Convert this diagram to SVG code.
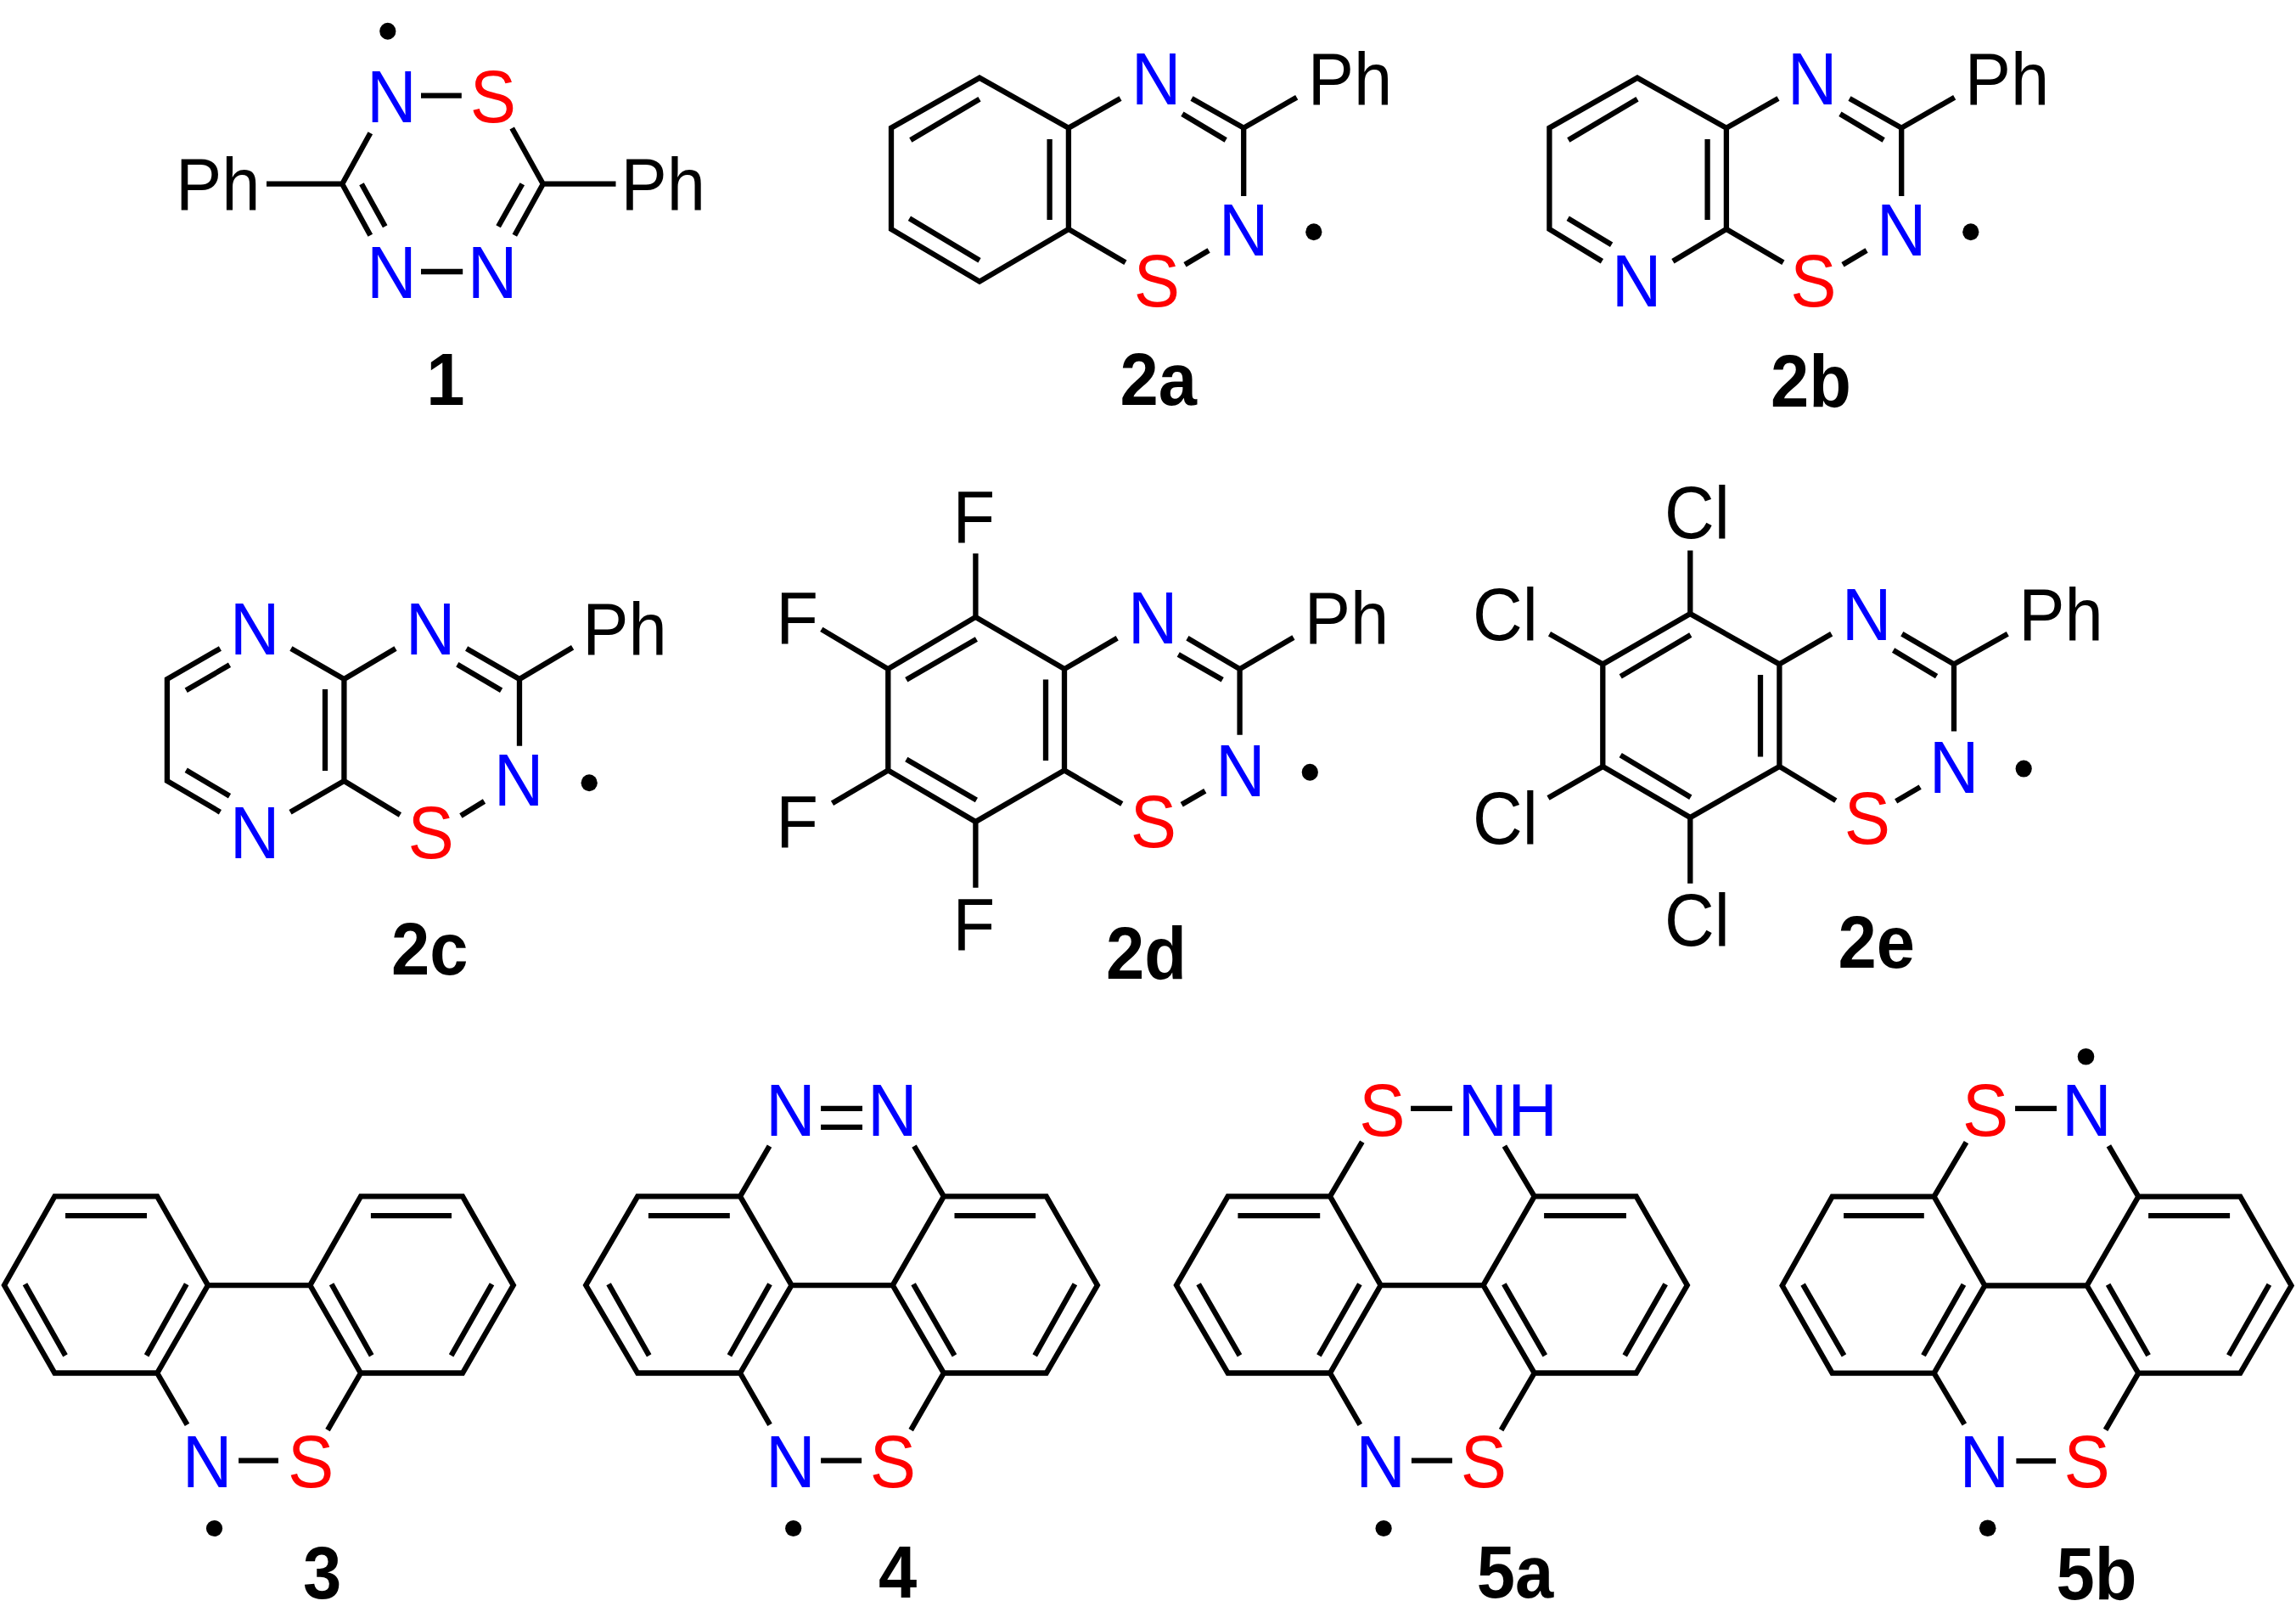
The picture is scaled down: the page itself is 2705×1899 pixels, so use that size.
<svg xmlns="http://www.w3.org/2000/svg" width="2705" height="1899" viewBox="0 0 2705 1899">
<style>
.b{fill:none;stroke:#000;stroke-width:6.3;stroke-linejoin:miter;stroke-linecap:butt}
text{font-family:"Liberation Sans",Arial,sans-serif;font-size:87.5px}
.l{font-weight:700}
.m{text-anchor:middle}
.n{fill:#00f}
.s{fill:#f00}
.k{fill:#000}
</style>
<rect width="2705" height="1899" fill="#fff"/>
<g id="compound-1">
<path class="b" d="M314 216.7H403.2M639.8 216.7H725.5M436.3 156.7L403.2 216.7L436.3 277.3M426 216.7L453.7 266.7M603.2 151L639.8 216.7L606.3 277.3M615.3 216.7L587.1 266.7M496 112.7H543.8M496 320H545.2"/>
<ellipse class="k" cx="456.8" cy="36.7" rx="9.6" ry="10"/>
<text class="m n" transform="translate(461.3,144) scale(.93,1)">N</text>
<text class="m s" transform="translate(580.9,144) scale(.93,1)">S</text>
<text class="m n" transform="translate(461.3,350.7) scale(.93,1)">N</text>
<text class="m n" transform="translate(580,350.7) scale(.93,1)">N</text>
<text class="k" transform="translate(207,246.7) scale(.93,1)">Ph</text>
<text class="k" transform="translate(731.4,246.7) scale(.93,1)">Ph</text>
<text class="l m k" transform="translate(525,477.3) scale(.93,1)">1</text>
</g>
<g id="compound-2a">
<path class="b" d="M1404 116L1465.2 150.7L1527.7 114.7M1392.9 134.3L1444.2 165M1465.2 150.7V231M1320 116L1258.9 150.7V270L1325.9 309.3M1258.9 150.7L1154 91.7L1050 150.7V270L1154 331.7L1258.9 270M1072.8 165L1154 116.7M1236.6 164V259M1071.4 257.3L1154 306.7M1396 311.7L1424.1 295"/>
<ellipse class="k" cx="1547.8" cy="273.3" rx="9.6" ry="10"/>
<text class="m n" transform="translate(1362,122.7) scale(.93,1)">N</text>
<text class="m n" transform="translate(1465.2,300.7) scale(.93,1)">N</text>
<text class="m s" transform="translate(1363,360.7) scale(.93,1)">S</text>
<text class="k" transform="translate(1540.7,122.7) scale(.93,1)">Ph</text>
<text class="l m k" transform="translate(1364.7,477.3) scale(.93,1)">2a</text>
</g>
<g id="compound-2b">
<path class="b" d="M2179 116L2240.2 150.7L2302.7 114.7M2167.9 134.3L2219.2 165M2240.2 150.7V231M2095 116L2033.9 150.7V270L2100.9 309.3M2033.9 150.7L1929 91.7L1825.4 150.7V270L1887.4 307.7M1970.9 307.7L2033.9 270M1847.8 165L1929 116.7M2011.6 164V259M1847.2 257.3L1898.6 288.3M2171 311.7L2199.1 295"/>
<ellipse class="k" cx="2321.8" cy="273.3" rx="9.6" ry="10"/>
<text class="m n" transform="translate(2135.2,122.7) scale(.93,1)">N</text>
<text class="m n" transform="translate(2240,300.7) scale(.93,1)">N</text>
<text class="m n" transform="translate(1928,360.7) scale(.93,1)">N</text>
<text class="m s" transform="translate(2136.5,360.7) scale(.93,1)">S</text>
<text class="k" transform="translate(2314.7,122.7) scale(.93,1)">Ph</text>
<text class="l m k" transform="translate(2133.4,478.7) scale(.93,1)">2b</text>
</g>
<g id="compound-2c">
<path class="b" d="M259.4 764L196.9 800V920L259.4 956.7M219.2 813.3L270.5 783.3M219.2 907.3L270.5 937.7M342.9 764L405.4 800V920L342 956.7M405.4 800L466 764M405.4 920L471.4 960M383 812V908M549.6 764L612 800L674.6 762.7M538.8 782.7L590.6 813.3M612 800V878.7M542.9 961L570.5 944"/>
<ellipse class="k" cx="694.2" cy="922.3" rx="9.6" ry="10"/>
<text class="m n" transform="translate(300,770.7) scale(.93,1)">N</text>
<text class="m n" transform="translate(300,1010.7) scale(.93,1)">N</text>
<text class="m n" transform="translate(507.1,770.7) scale(.93,1)">N</text>
<text class="m n" transform="translate(611.2,949.3) scale(.93,1)">N</text>
<text class="m s" transform="translate(507.6,1010.7) scale(.93,1)">S</text>
<text class="k" transform="translate(686.3,770.7) scale(.93,1)">Ph</text>
<text class="l m k" transform="translate(506.3,1148.3) scale(.93,1)">2c</text>
</g>
<g id="compound-2d">
<path class="b" d="M1149.4 651.9V726.9L1254 788.1V907.5L1149.4 968L1046.3 907.5V788.1L1149.4 726.9M1067.8 800.8L1150.4 752.9M1232 800.4V896M1067.8 894.5L1150.4 942.4M967.8 741.4L1046.3 788.1M980.5 946.2L1046.3 907.5M1149.4 968V1045.7M1254 788.1L1316.2 751.8M1254 907.5L1321.8 947M1398.9 751.8L1460.6 788.1L1523.9 751M1388.2 770.9L1440.2 800.8M1460.6 788.1V865.8M1392.2 947.7L1419.8 931.7"/>
<ellipse class="k" cx="1543.3" cy="909.8" rx="9.6" ry="10"/>
<text class="k" transform="translate(1122.5,638.9) scale(.93,1)">F</text>
<text class="k" transform="translate(914.3,757.5) scale(.93,1)">F</text>
<text class="k" transform="translate(914.3,997.9) scale(.93,1)">F</text>
<text class="k" transform="translate(1122.5,1118.8) scale(.93,1)">F</text>
<text class="m n" transform="translate(1358,757.5) scale(.93,1)">N</text>
<text class="m n" transform="translate(1461.4,938.2) scale(.93,1)">N</text>
<text class="m s" transform="translate(1359,997.9) scale(.93,1)">S</text>
<text class="k" transform="translate(1536.7,757.5) scale(.93,1)">Ph</text>
<text class="l m k" transform="translate(1350.4,1152.5) scale(.93,1)">2d</text>
</g>
<g id="compound-2e">
<path class="b" d="M1991.3 648.5V723.1L2096.4 782.4V902.9L1991.3 963L1888.3 902.9V782.4L1991.3 723.1M1909.2 796.9L1991.8 748M2074 795V891.5M1909.2 889.6L1991.8 939.3M1825.5 746.8L1888.3 782.4M1824 940.1L1888.3 902.9M1991.3 963V1040.7M2096.4 782.4L2157.7 746.8M2096.4 902.9L2162.8 943.1M2240.8 746.8L2302 782.4L2365.3 746.8M2230.6 766L2281.6 796.6M2302 782.4V861.6M2233.7 943.9L2262.2 927.1"/>
<ellipse class="k" cx="2384.2" cy="905.6" rx="9.6" ry="10"/>
<text class="k" transform="translate(1961,634.3) scale(.93,1)">Cl</text>
<text class="k" transform="translate(1735,753.7) scale(.93,1)">Cl</text>
<text class="k" transform="translate(1735,993.7) scale(.93,1)">Cl</text>
<text class="k" transform="translate(1961,1114.2) scale(.93,1)">Cl</text>
<text class="m n" transform="translate(2199,753.7) scale(.93,1)">N</text>
<text class="m n" transform="translate(2302,933.6) scale(.93,1)">N</text>
<text class="m s" transform="translate(2200,993.7) scale(.93,1)">S</text>
<text class="k" transform="translate(2378.2,753.7) scale(.93,1)">Ph</text>
<text class="l m k" transform="translate(2210.7,1140.2) scale(.93,1)">2e</text>
</g>
<g id="compound-3">
<path class="b" d="M64.4 1409.4H185.2L245 1514.1L185.2 1617.5H64.4L5 1514.1ZM425 1409.4H545L604.8 1514.1L545 1617.5H425L365.3 1514.1ZM245 1514.1H365.3M77 1432.1H173M29.5 1512.8L77 1596.9M219.7 1512.8L172.6 1596.9M436.9 1432.1H532M390.6 1512.8L437.7 1596.9M579.5 1512.8L531.6 1596.9M185.2 1617.5L220.5 1678.4M425 1617.5L386 1684.6M281.1 1720.6H327.9"/>
<circle class="k" cx="252.5" cy="1800.5" r="9.6"/>
<text class="m n" transform="translate(244.1,1752.1) scale(.93,1)">N</text>
<text class="m s" transform="translate(366.2,1752.1) scale(.93,1)">S</text>
<text class="l m k" transform="translate(379.6,1883.3) scale(.93,1)">3</text>
</g>
<g id="compound-4">
<path class="b" d="M751.2 1409.4H872L932.6 1514.1L872 1617.5H751.2L690.2 1514.1ZM1111.9 1409.4H1232.7L1292.9 1514.1L1232.7 1617.5H1111.9L1051.7 1514.1ZM932.6 1514.1H1051.7M763.9 1432.1H859.8M717.1 1512.8L764.7 1596.9M907 1512.8L859.4 1596.9M1124.5 1432.1H1220.1M1076.1 1512.8L1124.5 1596.9M1266.4 1512.8L1219.2 1596.9M872 1409.4L906.5 1350.2M1111.9 1409.4L1077 1350.2M967.1 1305.9H1016M967.1 1327.8H1016M872 1617.5L907 1678.4M1111.9 1617.5L1073.2 1684.6M967.1 1720.6H1015.1"/>
<circle class="k" cx="934.7" cy="1800.5" r="9.6"/>
<text class="m n" transform="translate(931.4,1338.2) scale(.93,1)">N</text>
<text class="m n" transform="translate(1051.3,1338.2) scale(.93,1)">N</text>
<text class="m n" transform="translate(931.4,1752.1) scale(.93,1)">N</text>
<text class="m s" transform="translate(1052,1752.1) scale(.93,1)">S</text>
<text class="l m k" transform="translate(1057.6,1882) scale(.93,1)">4</text>
</g>
<g id="compound-5a">
<path class="b" d="M1446.6 1409.4H1567L1626.7 1514.1L1567 1617.5H1446.6L1386 1514.1ZM1807.7 1409.4H1927.7L1987.8 1514.1L1927.7 1617.5H1807.7L1747.5 1514.1ZM1626.7 1514.1H1747.5M1458.4 1432.1H1555.2M1412.1 1512.8L1460.5 1596.9M1601.9 1512.8L1553.9 1596.9M1819.1 1432.1H1915.9M1771.9 1512.8L1820.3 1596.9M1962.2 1512.8L1914.2 1596.9M1567 1409.4L1604.8 1345.2M1807.7 1409.4L1772.4 1350.2M1662.1 1305.9H1710.9M1567 1617.5L1602.3 1678.4M1807.7 1617.5L1768.6 1684.6M1662.9 1720.6H1710.9"/>
<circle class="k" cx="1630.1" cy="1800.5" r="9.6"/>
<text class="m s" transform="translate(1628.4,1338.2) scale(.93,1)">S</text>
<text class="n" transform="translate(1717.5,1338.2) scale(.93,1)">NH</text>
<text class="m n" transform="translate(1626.7,1752.1) scale(.93,1)">N</text>
<text class="m s" transform="translate(1748,1752.1) scale(.93,1)">S</text>
<text class="l m k" transform="translate(1785,1882) scale(.93,1)">5a</text>
</g>
<g id="compound-5b">
<path class="b" d="M2158.6 1409.7H2278.6L2338.4 1514.5L2278.6 1617.6H2158.6L2099.7 1514.5ZM2519.3 1409.7H2639.3L2699.5 1514.5L2639.3 1617.6H2519.3L2458.7 1514.5ZM2338.4 1514.5H2458.7M2172.1 1432.2H2266.8M2124.1 1513.2L2172.5 1596.8M2313.5 1513.2L2266 1596.8M2531.1 1432.2H2627.1M2483.6 1513.2L2531.1 1596.8M2673.4 1513.2L2625.8 1596.8M2278.6 1409.7L2316.5 1345.6M2519.3 1409.7L2484.4 1349.9M2374.1 1305.8H2423M2278.6 1617.6L2314.4 1677.8M2519.3 1617.6L2480.6 1684.3M2375.4 1721.1H2422.1"/>
<circle class="k" cx="2457.5" cy="1244.7" r="9.8"/>
<circle class="k" cx="2341.7" cy="1800.3" r="9.8"/>
<text class="m s" transform="translate(2339.2,1337.8) scale(.93,1)">S</text>
<text class="m n" transform="translate(2458.3,1337.8) scale(.93,1)">N</text>
<text class="m n" transform="translate(2337.9,1751.8) scale(.93,1)">N</text>
<text class="m s" transform="translate(2458.7,1751.8) scale(.93,1)">S</text>
<text class="l m k" transform="translate(2470,1883.9) scale(.93,1)">5b</text>
</g>
</svg>
